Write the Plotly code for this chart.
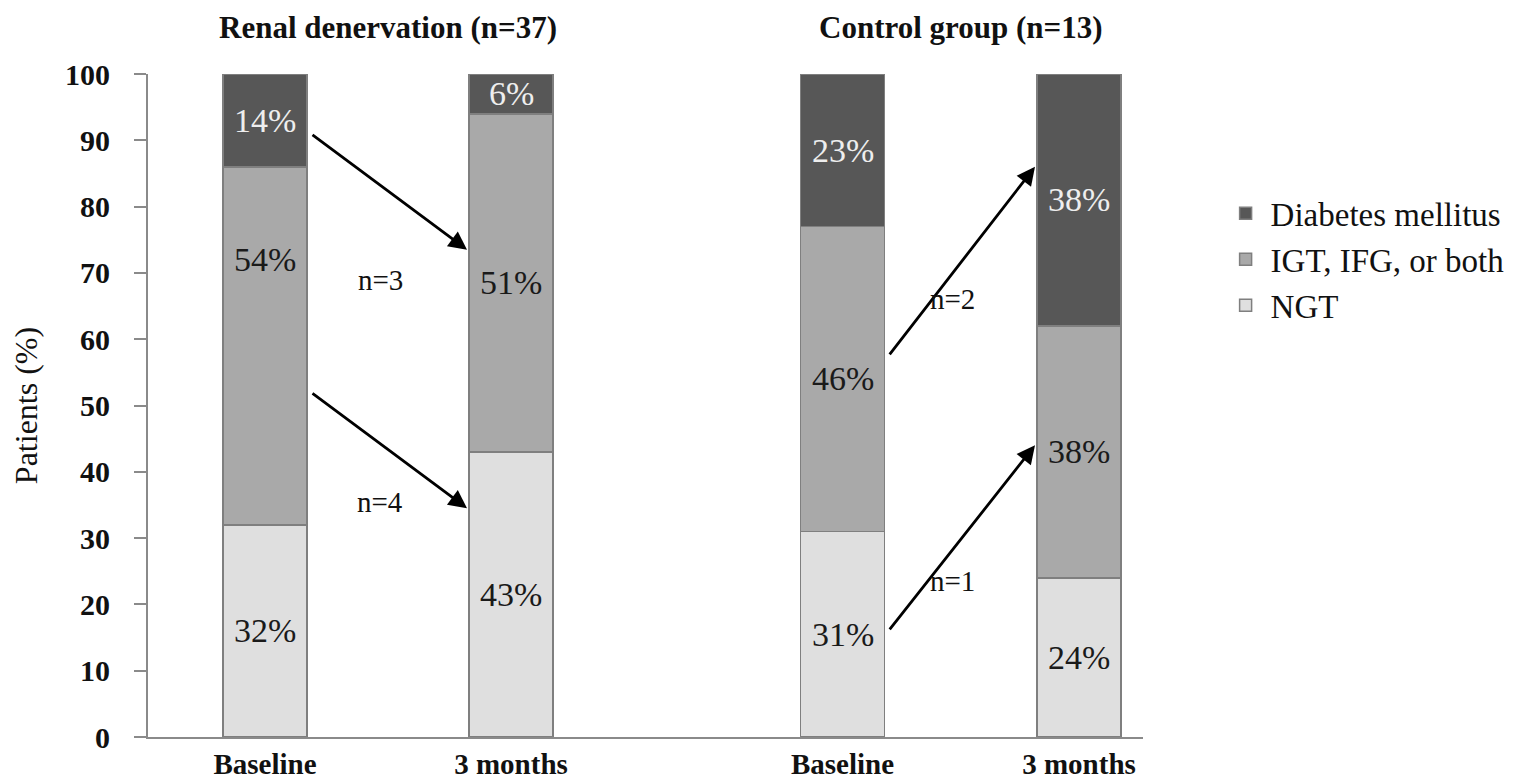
import plotly.graph_objects as go

# ---- data ----
groups = ["Renal denervation (n=37)", "Control group (n=13)"]
timepoints = ["Baseline", "3 months", "Baseline", "3 months"]
series_names = ["NGT", "IGT, IFG, or both", "Diabetes mellitus"]
ngt = [32, 43, 31, 24]
igt = [54, 51, 46, 38]
dm = [14, 6, 23, 38]
# arrows: (from bar, from %, to bar, to %, label, label %)
arrow_from_bar = [0, 0, 2, 2]
arrow_from_y = [91, 52, 57.5, 16]
arrow_to_bar = [1, 1, 3, 3]
arrow_to_y = [73.5, 34.5, 86, 44]
arrow_labels = ["n=3", "n=4", "n=2", "n=1"]
arrow_label_y = [69, 35.5, 66, 23.5]

# ---- layout constants (pixel-like x units) ----
bar_pos = [117, 363, 694.5, 931]
bar_w = 84
FONT = "Liberation Serif, Times New Roman, serif"
colors = ["#dfdfdf", "#a9a9a9", "#575757"]
text_colors = ["#1a1a1a", "#1a1a1a", "#eeeeee"]
label_shift = {(1, 0): 13}  # move "54%" label up as in the original

fig = go.Figure()
values = [ngt, igt, dm]
for i, (name, vals) in enumerate(zip(series_names, values)):
    fig.add_trace(go.Bar(
        x=bar_pos, y=vals, width=bar_w, name=name,
        marker=dict(color=colors[i], line=dict(color="#7f7f7f", width=1.5)),
        hoverinfo="skip",
    ))

annotations = []
# segment labels
for i, vals in enumerate(values):
    for j, v in enumerate(vals):
        base = sum(values[k][j] for k in range(i))
        yc = base + v / 2 + label_shift.get((i, j), 0)
        annotations.append(dict(
            x=bar_pos[j], y=yc, xref="x", yref="y", text=f"{v}%",
            showarrow=False, font=dict(family=FONT, size=34, color=text_colors[i]),
        ))

# group titles
for g, title in enumerate(groups):
    xc = (bar_pos[2 * g] + bar_pos[2 * g + 1]) / 2
    annotations.append(dict(
        x=xc, y=1.07, xref="x", yref="paper", yanchor="middle",
        text=f"<b>{title}</b>",
        showarrow=False, font=dict(family=FONT, size=31, color="#111111"),
    ))

# transition arrows and labels
for fb, fy, tb, ty, lab, ly in zip(arrow_from_bar, arrow_from_y, arrow_to_bar,
                                   arrow_to_y, arrow_labels, arrow_label_y):
    x0 = bar_pos[fb] + bar_w / 2 + 4
    x1 = bar_pos[tb] - bar_w / 2 - 2
    annotations.append(dict(
        x=x1, y=ty, ax=x0, ay=fy, xref="x", yref="y", axref="x", ayref="y",
        text="", showarrow=True, arrowhead=2, arrowsize=1.3, arrowwidth=2.8,
        arrowcolor="#000000", standoff=0, startstandoff=0,
    ))
    annotations.append(dict(
        x=(x0 + x1) / 2 - 9, y=ly, xref="x", yref="y", text=lab, showarrow=False,
        font=dict(family=FONT, size=29, color="#111111"),
    ))

# the page adds an 8 px body margin, so the figure is 8 px smaller on each side
fig.update_layout(
    barmode="stack",
    width=1530, height=772,
    margin=dict(l=140, r=395, t=66, b=43, autoexpand=False),
    paper_bgcolor="white", plot_bgcolor="white",
    font=dict(family=FONT, color="#111111"),
    showlegend=True,
    legend=dict(
        x=1.078, y=0.832, xanchor="left", yanchor="top",
        traceorder="reversed", font=dict(family=FONT, size=33, color="#111111"),
        itemwidth=40, tracegroupgap=0,
    ),
    annotations=annotations,
    xaxis=dict(
        range=[0, 995], tickvals=bar_pos,
        ticktext=[f"<b>{t}</b>" for t in timepoints],
        tickfont=dict(family=FONT, size=29, color="#111111"),
        showgrid=False, zeroline=False, showline=True, linecolor="#8a8a8a",
        linewidth=2, ticks="", fixedrange=True, automargin=False,
    ),
    yaxis=dict(
        range=[0, 100], dtick=10, tickformat="d",
        tickfont=dict(family=FONT, size=30, color="#111111"),
        showgrid=False, zeroline=False, showline=True, linecolor="#8a8a8a",
        linewidth=2, ticks="outside", ticklen=12, tickcolor="#8a8a8a", tickwidth=2,
        ticklabelstandoff=18, automargin=False,
        title=dict(text="Patients (%)", font=dict(family=FONT, size=32, color="#111111"),
                   standoff=21),
        fixedrange=True,
    ),
)
fig.update_yaxes(tickprefix="<b>", ticksuffix="</b>")

fig.write_html("out.html")
